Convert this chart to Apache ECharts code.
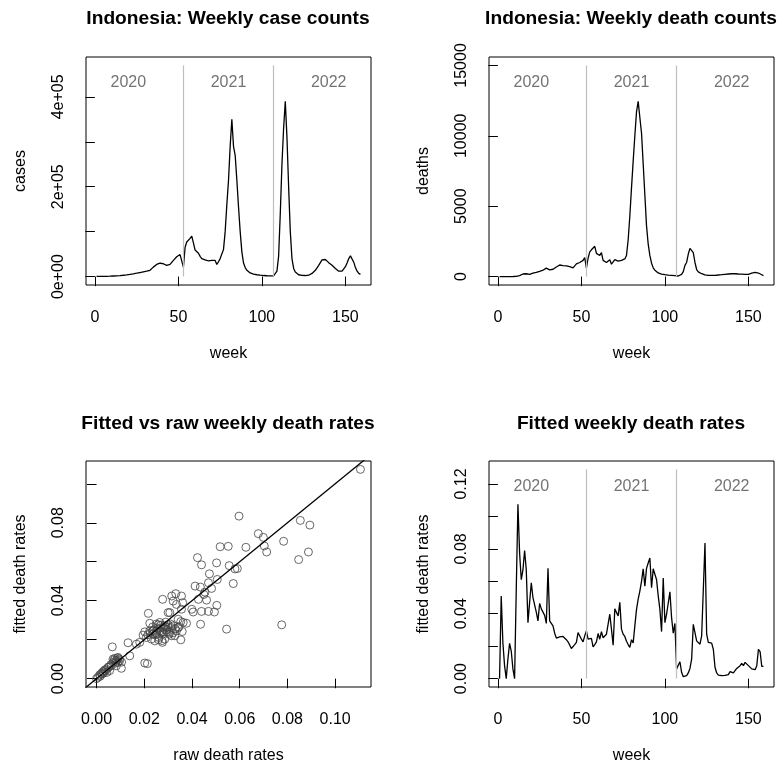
<!DOCTYPE html>
<html>
<head>
<meta charset="utf-8">
<script src="https://cdn.jsdelivr.net/npm/echarts@6/dist/echarts.min.js"></script>
<style>
  html, body { margin: 0; padding: 0; background: #fff; }
  #chart { width: 778px; height: 765px; }
</style>
</head>
<body>
<div id="chart"></div>
<script>
// weekly series, week 1..159
const firstWeek = 1;
const cases = [
  200, 200, 300, 300, 400, 500, 600, 700, 800, 1000,
  1200, 1400, 1600, 1900, 2200, 2500, 2900, 3300, 3800, 4300,
  4800, 5400, 6000, 6700, 7400, 8200, 9000, 9800, 10500, 11200,
  12000, 12800, 14000, 17000, 21000, 25000, 27000, 29000, 30000, 29500,
  28500, 27000, 25000, 23000, 27000, 31000, 36000, 40000, 44000, 46000,
  49000, 50000, 21000, 65000, 77000, 80000, 85000, 90000, 75000, 59000,
  57000, 52000, 45000, 40000, 38000, 37000, 36000, 35000, 37000, 36000,
  35500, 36000, 27000, 33000, 40000, 44000, 60000, 100000, 160000, 214000,
  290000, 350000, 290000, 270000, 215000, 155000, 100000, 55000, 30000, 20000,
  14000, 10000, 8000, 6500, 5500, 4500, 4000, 3500, 3000, 2600,
  2300, 2000, 1800, 1600, 1400, 1200, 1500, 4500, 12000, 45000,
  140000, 250000, 330000, 390000, 310000, 200000, 100000, 40000, 18000, 10000,
  6000, 4000, 3000, 2500, 2300, 2300, 2500, 3000, 4500, 7000,
  10000, 14000, 18000, 25000, 31000, 37000, 39000, 38000, 35000, 31000,
  29000, 25000, 21000, 18000, 15000, 12000, 11000, 12000, 15000, 22000,
  30000, 40000, 46000, 42000, 32000, 20000, 12000, 7000, 5000
];
const deaths = [
  0, 0, 0, 0, 0, 0, 0, 0, 5, 10,
  20, 40, 70, 110, 180, 240, 200, 140, 160, 200,
  240, 270, 300, 330, 370, 420, 450, 500, 600, 650,
  480, 440, 520, 600, 680, 750, 820, 850, 780, 700,
  760, 800, 700, 650, 620, 600, 900, 950, 1000, 1050,
  1150, 1350, 600, 1300, 1750, 1900, 1850, 2150, 1650, 1550,
  1500, 1700, 1150, 1100, 1000, 900, 1200, 880, 1000, 1200,
  1150, 1100, 1200, 1150, 1200, 1250, 1500, 2600, 4300, 6300,
  8200, 10000, 11700, 12450, 11300, 10200, 8000, 5800, 3600, 2300,
  1500, 950, 620, 450, 330, 260, 210, 180, 150, 130,
  110, 100, 90, 80, 70, 60, 50, 40, 60, 150,
  350, 800, 1000, 1600, 2000, 2100, 1700, 1000, 500, 330,
  250, 200, 150, 120, 100, 90, 80, 80, 80, 90,
  100, 110, 120, 130, 150, 160, 170, 180, 190, 200,
  210, 200, 190, 180, 180, 170, 170, 160, 150, 160,
  200, 250, 290, 300, 280, 250, 200, 130, 70
];
const fittedRates = [
  0, 0.051, 0.022, 0.008, 0, 0.012, 0.0217, 0.017, 0.006, 0,
  0.055, 0.1075, 0.0775, 0.061, 0.067, 0.079, 0.067, 0.0345, 0.047, 0.059,
  0.05, 0.049, 0.041, 0.0356, 0.0464, 0.043, 0.041, 0.039, 0.034, 0.068,
  0.0356, 0.035, 0.0325, 0.028, 0.025, 0.025, 0.0258, 0.025, 0.026, 0.025,
  0.024, 0.0227, 0.0219, 0.0186, 0.0188, 0.021, 0.0223, 0.0284, 0.0284, 0.0243,
  0.0227, 0.0264, 0.0294, 0.0243, 0.024, 0.0248, 0.0196, 0.021, 0.0227, 0.0278,
  0.0243, 0.029, 0.0252, 0.0252, 0.0274, 0.0284, 0.0397, 0.0305, 0.0206, 0.043,
  0.044, 0.0386, 0.047, 0.0305, 0.0274, 0.026, 0.023, 0.021, 0.0192, 0.024,
  0.022, 0.0325, 0.0427, 0.049, 0.054, 0.06, 0.0677, 0.057, 0.068, 0.0713,
  0.0744, 0.056, 0.0677, 0.068, 0.061, 0.051, 0.0427, 0.029, 0.062, 0.0345,
  0.0397, 0.04, 0.0535, 0.0376, 0.028, 0.034, 0.006, 0.0049, 0.0104, 0.0039,
  0.0012, 0.0008, 0.0018, 0.0035, 0.0063, 0.012, 0.0335, 0.034, 0.0233, 0.0243,
  0.0212, 0.0264, 0.0264, 0.0836, 0.0274, 0.0223, 0.0212, 0.0219, 0.018, 0.007,
  0.0035, 0.0022, 0.002, 0.0018, 0.0025, 0.002, 0.0018, 0.0025, 0.0043, 0.0043,
  0.0035, 0.0049, 0.0063, 0.0069, 0.008, 0.0094, 0.008, 0.01, 0.0104, 0.008,
  0.009, 0.006, 0.007, 0.0055, 0.008, 0.018, 0.0166, 0.0076, 0.0076
];
// scatter: raw vs fitted weekly death rates
const scatterRaw = [
  0.1106, 0.0597, 0.0854, 0.0894, 0.0678, 0.0699, 0.0784, 0.0703, 0.0713, 0.0888,
  0.0847, 0.0518, 0.0552, 0.0626, 0.0423, 0.044, 0.0503, 0.0556, 0.058, 0.059,
  0.0473, 0.0506, 0.0469, 0.0573, 0.0413, 0.0435, 0.0454, 0.045, 0.0482, 0.0277,
  0.0315, 0.0332, 0.0356, 0.0321, 0.0335, 0.0361, 0.0427, 0.0461, 0.0504, 0.0399,
  0.0405, 0.044, 0.0469, 0.0494, 0.0307, 0.03, 0.0356, 0.0217, 0.0223, 0.0342,
  0.0353, 0.0363, 0.0377, 0.0436, 0.0545, 0.0776, 0.0258, 0.0279, 0.03, 0.0321,
  0.0202, 0.0237, 0.0251, 0.0272, 0.0293, 0.0335, 0.0359, 0.0328, 0.0195, 0.0209,
  0.023, 0.0261, 0.0276, 0.0353, 0.0244, 0.0286, 0.0132, 0.0167, 0.0181, 0.0066,
  0.0139, 0.0202, 0.0213, 0.009, 0.0076, 0.0097, 0.0104, 0.0069, 0.008, 0.0062,
  0.0048, 0.0041, 0.0034, 0.0027, 0.002, 0.0013, 0.0006, 0, 0.0055, 0.0083,
  0.009, 0.0043, 0.0024, 0.0069, 0.0085, 0.0237, 0.0258, 0.0279, 0.0304, 0.0314,
  0.0251, 0.0223, 0.0293, 0.0314, 0.0342, 0.0265, 0.0286, 0.0306,
  0.0245, 0.0265, 0.0285, 0.03, 0.031, 0.029, 0.027, 0.0255, 0.024, 0.0225,
  0.0215, 0.026, 0.0275, 0.032, 0.033, 0.0345, 0.028, 0.0295, 0.025, 0.0235,
  0.0075, 0.0082, 0.0095, 0.006, 0.0052, 0.003, 0.0015, 0.0038, 0.0105, 0.0088
];
const scatterFit = [
  0.1074, 0.0834, 0.0812, 0.0788, 0.0744, 0.0725, 0.0705, 0.0681, 0.065, 0.065,
  0.0611, 0.0677, 0.0679, 0.0674, 0.0621, 0.0584, 0.0594, 0.058, 0.0563, 0.0565,
  0.0538, 0.0509, 0.0492, 0.0488, 0.0475, 0.047, 0.0444, 0.0432, 0.0463, 0.0407,
  0.0424, 0.0436, 0.0424, 0.0398, 0.0381, 0.039, 0.0407, 0.0403, 0.0376, 0.0356,
  0.0342, 0.0345, 0.0345, 0.0342, 0.0339, 0.0339, 0.0356, 0.0335, 0.0284, 0.0305,
  0.0293, 0.0288, 0.0284, 0.0279, 0.0254, 0.0276, 0.0276, 0.0262, 0.0276, 0.0271,
  0.024, 0.0245, 0.0237, 0.024, 0.025, 0.0245, 0.0242, 0.022, 0.0223, 0.0211,
  0.0203, 0.0211, 0.0186, 0.0199, 0.0194, 0.0203, 0.0184, 0.0177, 0.0186, 0.0163,
  0.0117, 0.008, 0.0077, 0.0109, 0.0104, 0.0092, 0.0053, 0.0083, 0.008, 0.0066,
  0.0058, 0.0049, 0.0044, 0.0036, 0.0027, 0.0019, 0.0007, 0, 0.0041, 0.0066,
  0.0083, 0.0032, 0.0024, 0.01, 0.0095, 0.0228, 0.0254, 0.0237, 0.0228, 0.0262,
  0.0228, 0.0245, 0.0262, 0.022, 0.0262, 0.0288, 0.0271, 0.0237,
  0.0225, 0.0245, 0.0255, 0.0265, 0.028, 0.029, 0.0275, 0.026, 0.025, 0.0235,
  0.0225, 0.02, 0.0195, 0.0235, 0.0255, 0.0265, 0.023, 0.024, 0.028, 0.0265,
  0.0095, 0.0088, 0.01, 0.0072, 0.006, 0.003, 0.0012, 0.004, 0.0085, 0.0105
];
const abline = [[-1, -1], [1, 1]];
// year boundaries and labels
const yearBreaks = [53, 107];
const yearNames = ['2020', '2021', '2022'];
const yearLabelWeeks = [20, 80, 140];
// data limits (R pads each by 4%)
const weekLim = [1, 159];
const casesLim = [0, 470000];
const deathsLim = [0, 15000];
const rawLim = [0, 0.1106];
const fitLim = [0, 0.1074];
const rateLim = [0, 0.129];
// ticks and labels
const weekTicks = [0, 50, 100, 150];
const casesTicks = [0, 100000, 200000, 300000, 400000];
const casesLabels = [0, 200000, 400000];
const deathsTicks = [0, 5000, 10000, 15000];
const rawTicks = [0, 0.02, 0.04, 0.06, 0.08, 0.1];
const fitTicks = [0, 0.02, 0.04, 0.06, 0.08, 0.1];
const fitLabels = [0, 0.04, 0.08];
const rateTicks = [0, 0.02, 0.04, 0.06, 0.08, 0.1, 0.12];
const rateLabels = [0, 0.04, 0.08, 0.12];

const FONT = 'Liberation Sans, Arial, Helvetica, sans-serif';

function pad(lim) {
  var d = (lim[1] - lim[0]) * 0.04;
  return { min: lim[0] - d, max: lim[1] + d };
}

function axis(gridIndex, lim, ticks, labels, fmt, name, isY) {
  var r = pad(lim);
  return {
    type: 'value',
    gridIndex: gridIndex,
    min: r.min,
    max: r.max,
    name: name,
    nameLocation: 'middle',
    nameGap: isY ? 57 : 61,
    nameTextStyle: { fontSize: 16, color: '#000', fontFamily: FONT },
    axisLine: { show: false },
    splitLine: { show: false },
    axisTick: {
      show: true,
      length: 9.6,
      customValues: ticks,
      lineStyle: { color: '#000', width: 1 }
    },
    axisLabel: {
      show: true,
      customValues: labels,
      rotate: isY ? 90 : 0,
      margin: isY ? 19 : 25,
      fontSize: 16,
      color: '#000',
      fontFamily: FONT,
      formatter: fmt
    }
  };
}

function weekData(values) {
  return values.map(function (v, i) { return [firstWeek + i, v]; });
}

function yearMarks(top) {
  return {
    silent: true,
    symbol: ['none', 'none'],
    label: { show: false },
    lineStyle: { color: '#bebebe', width: 1.2, type: 'solid' },
    data: yearBreaks.map(function (w) {
      return [{ coord: [w, 0] }, { coord: [w, top] }];
    })
  };
}

function yearLabels(idx, top) {
  return {
    type: 'scatter',
    xAxisIndex: idx,
    yAxisIndex: idx,
    symbolSize: 0,
    silent: true,
    label: {
      show: true,
      position: 'inside',
      formatter: function (p) { return p.name; },
      fontSize: 16,
      color: '#505050',
      fontFamily: FONT
    },
    data: yearNames.map(function (n, i) {
      return { name: n, value: [yearLabelWeeks[i], top * 0.92] };
    })
  };
}

function lineSeries(idx, values, top) {
  return {
    type: 'line',
    xAxisIndex: idx,
    yAxisIndex: idx,
    data: weekData(values),
    showSymbol: false,
    symbol: 'none',
    lineStyle: { color: '#000', width: 1.3 },
    markLine: yearMarks(top)
  };
}

var sci = function (v) { return v.toExponential(0).replace(/e([+-])(\d)$/, 'e$10$2'); };
var plain = function (v) { return String(v); };
var fix2 = function (v) { return v.toFixed(2); };

var gridBox = { show: true, borderColor: '#000', borderWidth: 1, backgroundColor: 'transparent' };

var titles = [
  { text: 'Indonesia: Weekly case counts', left: 228, top: 9.5 },
  { text: 'Indonesia: Weekly death counts', left: 631, top: 9.5 },
  { text: 'Fitted vs raw weekly death rates', left: 228, top: 414.5 },
  { text: 'Fitted weekly death rates', left: 631, top: 414.5 }
];

var chart = echarts.init(document.getElementById('chart'));
chart.setOption({
  animation: false,
  backgroundColor: '#fff',
  title: titles.map(function (t) {
    return {
      text: t.text,
      left: t.left,
      top: t.top,
      textAlign: 'center',
      padding: 0,
      textStyle: { fontSize: 19.2, fontWeight: 'bold', color: '#000', fontFamily: FONT }
    };
  }),
  grid: [
    Object.assign({ left: 86, top: 57, width: 285, height: 228 }, gridBox),
    Object.assign({ left: 489, top: 57, width: 285, height: 228 }, gridBox),
    Object.assign({ left: 86, top: 461, width: 285, height: 228 }, gridBox),
    Object.assign({ left: 489, top: 461, width: 285, height: 228 }, gridBox)
  ],
  xAxis: [
    axis(0, weekLim, weekTicks, weekTicks, plain, 'week', false),
    axis(1, weekLim, weekTicks, weekTicks, plain, 'week', false),
    axis(2, rawLim, rawTicks, rawTicks, fix2, 'raw death rates', false),
    axis(3, weekLim, weekTicks, weekTicks, plain, 'week', false)
  ],
  yAxis: [
    axis(0, casesLim, casesTicks, casesLabels, sci, 'cases', true),
    axis(1, deathsLim, deathsTicks, deathsTicks, plain, 'deaths', true),
    axis(2, fitLim, fitTicks, fitLabels, fix2, 'fitted death rates', true),
    axis(3, rateLim, rateTicks, rateLabels, fix2, 'fitted death rates', true)
  ],
  series: [
    lineSeries(0, cases, casesLim[1]),
    yearLabels(0, casesLim[1]),
    lineSeries(1, deaths, deathsLim[1]),
    yearLabels(1, deathsLim[1]),
    {
      type: 'scatter',
      xAxisIndex: 2,
      yAxisIndex: 2,
      symbol: 'circle',
      symbolSize: 8,
      itemStyle: { color: 'rgba(0,0,0,0)', borderColor: '#444', borderWidth: 1 },
      data: scatterRaw.map(function (x, i) { return [x, scatterFit[i]]; })
    },
    {
      type: 'line',
      xAxisIndex: 2,
      yAxisIndex: 2,
      clip: true,
      symbol: 'none',
      lineStyle: { color: '#000', width: 1.3 },
      data: abline
    },
    lineSeries(3, fittedRates, rateLim[1]),
    yearLabels(3, rateLim[1])
  ]
});
</script>
</body>
</html>
